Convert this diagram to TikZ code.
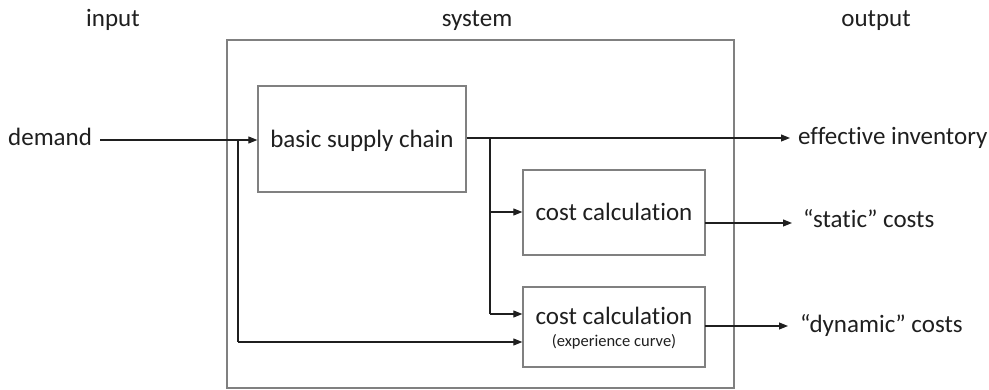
\documentclass[tikz,border=0pt]{standalone}
\usepackage{fontspec}
\setmainfont[Ligatures={NoCommon}]{Carlito}
\usetikzlibrary{arrows.meta}
\definecolor{txt}{HTML}{1F1F1F}
\definecolor{boxgray}{HTML}{808080}
\begin{document}
\begin{tikzpicture}[x=1pt,y=-1pt,
  lbl/.style={inner sep=0pt,text=txt,font=\fontsize{25}{29}\selectfont},
  blk/.style={draw=boxgray,line width=1.3pt,inner sep=0pt},
  arr/.style={draw=txt,line width=1.1pt,-{Triangle[length=9pt,width=7pt]}},
  trunk/.style={draw=txt,line width=1.8pt}]
\useasboundingbox (0,0) rectangle (989,390);
% boxes
\node[blk,minimum width=507pt,minimum height=348pt] (sys) at (480.5,214) {};
\node[blk,minimum width=208pt,minimum height=106pt] (bsc) at (362,139) {};
\node[blk,minimum width=182pt,minimum height=85pt] (c1) at (614,212.5) {};
\node[blk,minimum width=182pt,minimum height=80pt] (c2) at (614,327) {};
% texts
\node[lbl,anchor=base] (tin) at (113,27) {input};
\node[lbl,anchor=base] (tsys) at (477,27) {system};
\node[lbl,anchor=base] (tout) at (876,27) {output};
\node[lbl,anchor=base west] (dem) at (8,146) {demand};
\node[lbl,anchor=base] (tbsc) at (362,148) {basic supply chain};
\node[lbl,anchor=base] (tc1) at (614,221) {cost calculation};
\node[lbl,anchor=base] (tc2) at (614,325) {cost calculation};
\node[inner sep=0pt,text=txt,font=\fontsize{16.5}{18}\selectfont,anchor=base] (tc2s) at (614,347) {(experience curve)};
\node[lbl,anchor=base west] (oinv) at (798,145) {effective inventory};
\node[lbl,anchor=base west] (ostat) at (803,228) {“static” costs};
\node[lbl,anchor=base west] (odyn) at (800,333) {“dynamic” costs};
% coordinates
\coordinate (dS) at (100,140);
\coordinate (dJ) at (238,140);
\coordinate (dB) at (238,342);
\coordinate (bJ) at (490,138);
\coordinate (bB) at (490,314);
\coordinate (bM) at (490,212);
\coordinate (iE) at (790,138);
\coordinate (c1o) at (705,223);
\coordinate (c1e) at (792,223);
\coordinate (c2o) at (705,326);
\coordinate (c2e) at (788,326);
% connectors
\draw[arr] (dS) -- (bsc.west |- dS);
\draw[trunk] (dJ) -- (dB);
\draw[arr] (dB) -- (c2.west |- dB);
\draw[arr] (bsc.east |- bJ) -- (iE);
\draw[trunk] (bJ) -- (bB);
\draw[arr] (bM) -- (c1.west |- bM);
\draw[arr] (bB) -- (c2.west |- bB);
\draw[arr] (c1o) -- (c1e);
\draw[arr] (c2o) -- (c2e);
\end{tikzpicture}
\end{document}
